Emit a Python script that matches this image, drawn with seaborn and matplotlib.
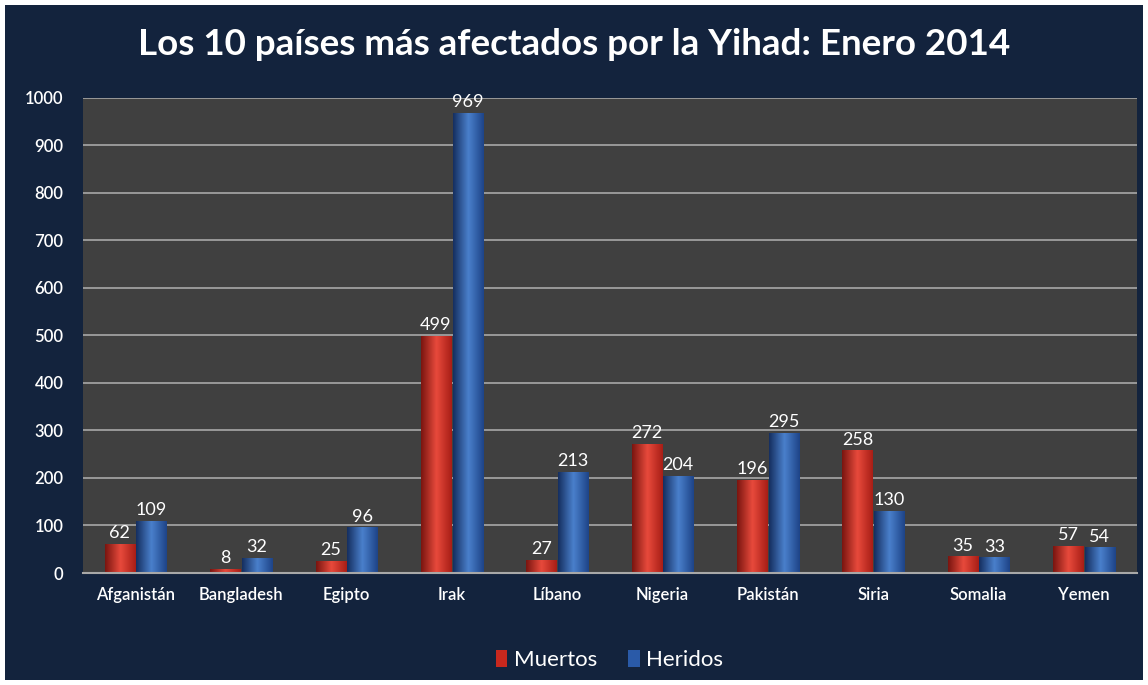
import numpy as np
import pandas as pd
import matplotlib
matplotlib.use("Agg")
import matplotlib.pyplot as plt
import matplotlib.patches as mpatches
from matplotlib.colors import LinearSegmentedColormap
import seaborn as sns

## datos
paises = ["Afganistán", "Bangladesh", "Egipto", "Irak", "Líbano",
          "Nigeria", "Pakistán", "Siria", "Somalia", "Yemen"]
muertos = [62, 8, 25, 499, 27, 272, 196, 258, 35, 57]
heridos = [109, 32, 96, 969, 213, 204, 295, 130, 33, 54]

df = pd.DataFrame({"pais": paises * 2,
                   "valor": muertos + heridos,
                   "serie": ["Muertos"] * len(paises) + ["Heridos"] * len(paises)})

navy = "#13233d"
sns.set_theme(style="dark")
plt.rcParams["font.family"] = ["Lato", "DejaVu Sans"]

fig = plt.figure(figsize=(11.48, 6.85), dpi=100)
fig.patch.set_facecolor("white")
fig.add_artist(mpatches.Rectangle((5 / 1148, 5 / 685), 1138 / 1148, 675 / 685,
                                  transform=fig.transFigure, facecolor=navy,
                                  edgecolor="none", zorder=-10))
ax = fig.add_axes([0.0723, 0.1635, 0.9177, 0.6935])
ax.set_facecolor("#404040")

colores = {"Muertos": "#c8281e", "Heridos": "#2a5aa8"}
sns.barplot(data=df, x="pais", y="valor", hue="serie", palette=colores,
            width=0.6, gap=0.05, saturation=1, linewidth=0, ax=ax, legend=True)

## efecto cilindro sobre cada barra
cmaps = {"Muertos": LinearSegmentedColormap.from_list("r", ["#7a1510", "#e84a3c", "#a81e16"]),
         "Heridos": LinearSegmentedColormap.from_list("b", ["#152f60", "#4a80cc", "#1e4488"])}
grad = np.linspace(0, 1, 64).reshape(1, -1)
for cont, serie in zip(ax.containers, ["Muertos", "Heridos"]):
    for p in cont:
        x0, y0 = p.get_x(), p.get_y()
        w, h = p.get_width(), p.get_height()
        im = ax.imshow(grad, cmap=cmaps[serie], aspect="auto",
                       extent=(x0, x0 + w, y0, y0 + h), zorder=p.get_zorder() + 0.1)
        im.set_clip_path(p)
    ax.bar_label(cont, color="white", fontsize=13, padding=2)

ax.set_xlim(-0.5, 9.5)
ax.set_ylim(0, 1000)
ax.set_yticks(range(0, 1001, 100))
ax.grid(axis="y", color="#a8a8a8", linewidth=1.2)
ax.grid(axis="x", visible=False)
ax.set_axisbelow(True)
for s in ["top", "right", "left"]:
    ax.spines[s].set_visible(False)
ax.spines["bottom"].set_color("#a8a8a8")
ax.spines["bottom"].set_linewidth(1.5)
ax.tick_params(axis="both", colors="white", labelsize=12, length=0, pad=10)
ax.tick_params(axis="y", pad=14)
for lab in ax.get_xticklabels() + ax.get_yticklabels():
    lab.set_fontweight("semibold")
ax.set_xlabel("")
ax.set_ylabel("")

leg = ax.legend(loc="upper center", bbox_to_anchor=(0.5, -0.12), ncol=2,
                frameon=False, fontsize=16, handlelength=0.5, handleheight=0.8,
                handletextpad=0.3, columnspacing=1.4)
for t in leg.get_texts():
    t.set_color("white")
for h in leg.legend_handles:
    h.set_edgecolor("none")

fig.text(0.5, 0.935, "Los 10 países más afectados por la Yihad: Enero 2014",
         ha="center", va="center", color="white", fontsize=26.5, fontweight="bold")

fig.savefig("out.png", dpi=100, facecolor=fig.get_facecolor())
